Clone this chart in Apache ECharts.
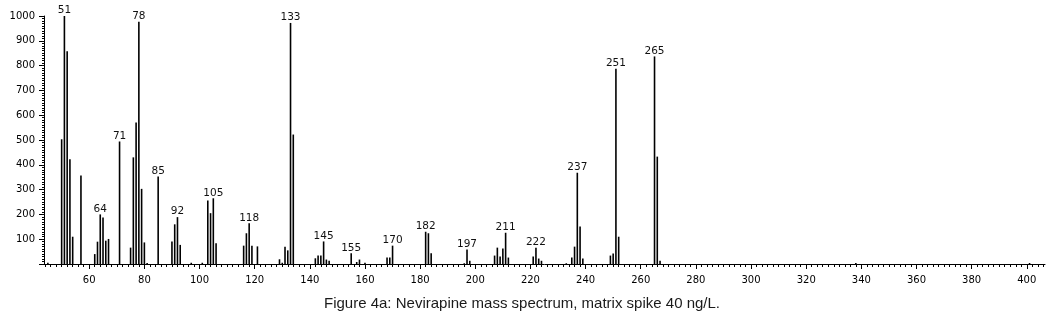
<!DOCTYPE html>
<html>
<head>
<meta charset="utf-8">
<script src="https://cdn.jsdelivr.net/npm/echarts@6/dist/echarts.min.js"></script>
<style>
  html, body { margin: 0; padding: 0; background: #fff; }
  #chart { width: 1057px; height: 312px; }
</style>
</head>
<body>
<div id="chart"></div>
<script>
// m/z of each peak and its abundance
var mz = [45, 50, 51, 52, 53, 54, 57, 62, 63, 64, 65, 66, 67, 71, 75, 76, 77, 78, 79, 80, 81, 85,
  90, 91, 92, 93, 97, 101, 103, 104, 105, 106, 116, 117, 118, 119, 121, 129, 130, 131, 132, 133, 134,
  142, 143, 144, 145, 146, 147, 155, 157, 158, 160, 168, 169, 170, 182, 183, 184, 196, 197, 198,
  207, 208, 209, 210, 211, 212, 221, 222, 223, 224, 233, 235, 236, 237, 238, 239,
  249, 250, 251, 252, 265, 266, 267, 338, 401];
var abundance = [5, 503, 1000, 858, 422, 110, 357, 40, 90, 200, 188, 94, 101, 494, 66, 430, 571, 977, 303, 87, 4, 353,
  91, 160, 189, 77, 5, 5, 256, 205, 265, 84, 74, 124, 164, 74, 71, 19, 5, 70, 55, 972, 522,
  23, 34, 34, 91, 18, 13, 43, 8, 18, 5, 26, 26, 74, 130, 124, 43, 3, 58, 13,
  34, 66, 30, 62, 126, 26, 30, 66, 22, 13, 3, 26, 70, 368, 151, 22,
  34, 42, 787, 110, 837, 433, 13, 4, 4];
// peaks that carry a label
var labeledPeaks = [51, 64, 71, 78, 85, 92, 105, 118, 133, 145, 155, 170, 182, 197, 211, 222, 237, 251, 265];
var xLabels = [60, 80, 100, 120, 140, 160, 180, 200, 220, 240, 260, 280, 300, 320, 340, 360, 380, 400];
var yLabels = [100, 200, 300, 400, 500, 600, 700, 800, 900, 1000];

var minorX = [];
for (var t = 44; t <= 406; t += 2) minorX.push(t);

var points = [];
for (var i = 0; i < mz.length; i++) {
  var item = { value: [mz[i], abundance[i]] };
  if (labeledPeaks.indexOf(mz[i]) >= 0) item.label = { show: true };
  points.push(item);
}

var tickFont = { fontFamily: 'DejaVu Sans', fontSize: 10, color: '#000' };
var xMin = 43.6, xMax = 406.6;

var myChart = echarts.init(document.getElementById('chart'));
var option = {
  animation: false,
  title: {
    text: 'Figure 4a: Nevirapine mass spectrum, matrix spike 40 ng/L.',
    left: 319,
    top: 291,
    textStyle: { fontFamily: 'Liberation Sans', fontSize: 15, fontWeight: 'normal', color: '#1a1a1a' }
  },
  grid: { left: 44, right: 12, top: 16, bottom: 48 },
  xAxis: [
    {
      type: 'value', min: xMin, max: xMax, position: 'bottom',
      axisLine: { show: true, lineStyle: { color: '#000', width: 1 } },
      axisTick: { show: true, length: 3, customValues: minorX, lineStyle: { color: '#000' } },
      axisLabel: { show: false },
      splitLine: { show: false }
    },
    {
      type: 'value', min: xMin, max: xMax, position: 'bottom',
      axisLine: { show: false },
      axisTick: { show: true, length: 5, customValues: xLabels, lineStyle: { color: '#000' } },
      axisLabel: Object.assign({ customValues: xLabels, margin: 11 }, tickFont),
      splitLine: { show: false }
    }
  ],
  yAxis: {
    type: 'value', min: 0, max: 1000, interval: 100,
    axisLine: { show: true, lineStyle: { color: '#000', width: 1 } },
    axisTick: { show: true, length: 5, lineStyle: { color: '#000' } },
    minorTick: { show: true, splitNumber: 10, length: 2, lineStyle: { color: '#000' } },
    axisLabel: Object.assign({
      margin: 9,
      formatter: function (v) { return yLabels.indexOf(v) >= 0 ? String(v) : ''; }
    }, tickFont),
    splitLine: { show: false }
  },
  series: [{
    type: 'bar',
    xAxisIndex: 0,
    barWidth: 1.6,
    itemStyle: { color: '#000' },
    label: {
      show: false, position: 'top', distance: 0,
      fontFamily: 'DejaVu Sans', fontSize: 10.5, color: '#111',
      formatter: function (p) { return String(p.value[0]); }
    },
    data: points
  }]
};
myChart.setOption(option);
</script>
</body>
</html>
